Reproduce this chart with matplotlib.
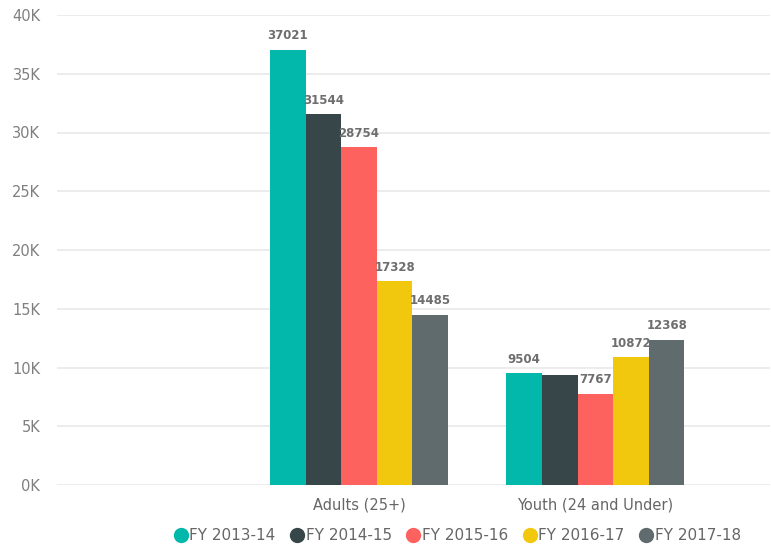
import matplotlib
matplotlib.use("Agg")
import matplotlib.pyplot as plt
from matplotlib.lines import Line2D
import numpy as np

categories = ["Adults (25+)", "Youth (24 and Under)"]
series = ["FY 2013-14", "FY 2014-15", "FY 2015-16", "FY 2016-17", "FY 2017-18"]
values = {
    "FY 2013-14": [37021, 9504],
    "FY 2014-15": [31544, 9360],
    "FY 2015-16": [28754, 7767],
    "FY 2016-17": [17328, 10872],
    "FY 2017-18": [14485, 12368],
}
show_label = {
    "FY 2014-15": [True, False],
}
colors = ["#01B8AA", "#374649", "#FD625E", "#F2C80F", "#5F6B6D"]
yticks = [0, 5000, 10000, 15000, 20000, 25000, 30000, 35000, 40000]
ytick_labels = ["0K", "5K", "10K", "15K", "20K", "25K", "30K", "35K", "40K"]

plt.rcParams['font.family'] = ['DejaVu Sans']

fig = plt.figure(figsize=(7.71, 5.48), dpi=100)
ax = fig.add_axes([57/771, 63/548, (770-57)/771, (485-15)/548])

x = np.arange(len(categories))
bw = 0.1505
for i, (s, c) in enumerate(zip(series, colors)):
    offs = (i - 2) * bw
    bars = ax.bar(x + offs, values[s], width=bw, color=c, zorder=3)
    flags = show_label.get(s, [True] * len(categories))
    for b, v, f in zip(bars, values[s], flags):
        if f:
            ax.text(b.get_x() + b.get_width() / 2, v + 650, str(v),
                    ha="center", va="bottom", fontsize=8.5, color="#6e6e6e",
                    fontweight="bold", zorder=4)

ax.set_xlim(-1.277, 1.738)
ax.set_ylim(0, 40000)
ax.set_yticks(yticks)
ax.set_yticklabels(ytick_labels, color="#7f7f7f", fontsize=10.5)
ax.set_xticks(x)
ax.set_xticklabels(categories, color="#666666", fontsize=10.5)
ax.tick_params(axis="both", length=0)
ax.tick_params(axis="y", pad=12)
ax.tick_params(axis="x", pad=9)
ax.grid(axis="y", color="#e9e9e9", linewidth=1.2, zorder=0)
for sp in ax.spines.values():
    sp.set_visible(False)

handles = [Line2D([0], [0], marker="o", linestyle="", markersize=10,
                  markerfacecolor=c, markeredgecolor=c) for c in colors]
leg = fig.legend(handles, series, loc="center", bbox_to_anchor=(457/771, 1 - 536/548),
                 ncol=5, frameon=False, fontsize=11, handletextpad=0.05,
                 columnspacing=0.93, handlelength=1.0)
for t in leg.get_texts():
    t.set_color("#666666")

fig.savefig("out.png", dpi=100)
